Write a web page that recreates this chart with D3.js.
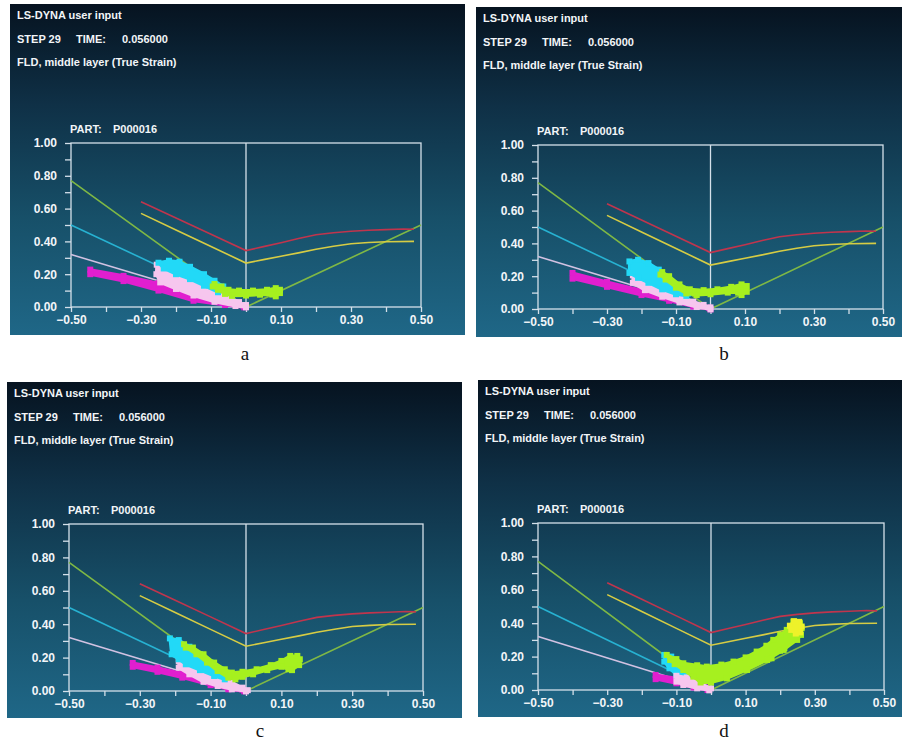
<!DOCTYPE html>
<html>
<head>
<meta charset="utf-8">
<script src="https://cdn.jsdelivr.net/npm/d3@7"></script>
<style>
  body { margin: 0; background: #ffffff; }
  svg text { font-family: "Liberation Sans", Arial, sans-serif; font-weight: bold; }
</style>
</head>
<body>
<div id="chart"></div>
<script>
const width = 902
const height = 742

// ---- data (strain values) ----
const panelNames = ["a", "b", "c", "d"]
const xTickMarks = [-0.5, -0.4, -0.3, -0.2, -0.1, 0, 0.1, 0.2, 0.3, 0.4, 0.5]
const xTickLabels = [-0.5, -0.3, -0.1, 0.1, 0.3, 0.5]
const yTickMarks = [0, 0.1, 0.2, 0.3, 0.4, 0.5, 0.6, 0.7, 0.8, 0.9, 1.0]
const yTickLabels = [0, 0.2, 0.4, 0.6, 0.8, 1.0]

const headerLines = ["LS-DYNA user input", "FLD, middle layer (True Strain)"]
const stepText = ["STEP 29", "TIME:", "0.056000"]
const partText = ["PART:", "P000016"]

// reference lines of the FLD
const greenLine = [[-0.5, 0.77], [0, 0], [0.5, 0.5]]
const cyanLine = [[-0.5, 0.5], [0, 0]]
const lilacLine = [[-0.5, 0.32], [0, 0]]
const redCurve = [[-0.30, 0.642], [-0.2, 0.543], [-0.1, 0.444], [0, 0.344], [0.05, 0.368], [0.1, 0.392],
  [0.15, 0.418], [0.2, 0.441], [0.25, 0.453], [0.3, 0.462], [0.35, 0.468], [0.4, 0.472], [0.45, 0.476], [0.48, 0.474]]
const yellowCurve = [[-0.30, 0.571], [-0.2, 0.470], [-0.1, 0.369], [0, 0.268], [0.05, 0.289], [0.1, 0.310],
  [0.15, 0.330], [0.2, 0.352], [0.25, 0.370], [0.3, 0.386], [0.35, 0.393], [0.4, 0.398], [0.48, 0.400]]

// element point clouds, outlined (major strain vs minor strain)
const magentaA = [[-0.445, 0.228], [-0.35, 0.19], [-0.25, 0.145], [-0.15, 0.078], [-0.06, 0.035], [-0.01, 0.01],
  [-0.005, -0.002], [-0.06, 0.012], [-0.15, 0.038], [-0.25, 0.1], [-0.35, 0.158], [-0.445, 0.2]]
const pinkA = [[-0.255, 0.258], [-0.23, 0.24], [-0.19, 0.2], [-0.14, 0.155], [-0.09, 0.1], [-0.05, 0.06], [-0.02, 0.03],
  [0.0, 0.012], [0.0, -0.002], [-0.03, 0.006], [-0.09, 0.032], [-0.15, 0.07], [-0.2, 0.11], [-0.245, 0.15], [-0.256, 0.2]]
const cyanA = [[-0.25, 0.27], [-0.22, 0.282], [-0.19, 0.276], [-0.16, 0.245], [-0.12, 0.2], [-0.09, 0.16], [-0.065, 0.125],
  [-0.06, 0.1], [-0.08, 0.09], [-0.12, 0.13], [-0.16, 0.17], [-0.2, 0.2], [-0.235, 0.235]]
const limeA = [[-0.09, 0.14], [-0.07, 0.125], [-0.05, 0.105], [-0.02, 0.1], [0.02, 0.1], [0.06, 0.105], [0.085, 0.115],
  [0.097, 0.105], [0.097, 0.085], [0.085, 0.065], [0.075, 0.076], [0.04, 0.075], [0.0, 0.07], [-0.04, 0.068],
  [-0.06, 0.08], [-0.08, 0.105], [-0.095, 0.125]]

const magentaB = [[-0.40, 0.22], [-0.3, 0.165], [-0.2, 0.115], [-0.12, 0.075], [-0.05, 0.035], [-0.005, 0.008],
  [0, -0.002], [-0.05, 0.015], [-0.12, 0.05], [-0.2, 0.085], [-0.3, 0.135], [-0.40, 0.185]]
const pinkB = [[-0.225, 0.205], [-0.2, 0.2], [-0.17, 0.17], [-0.13, 0.12], [-0.09, 0.08], [-0.05, 0.045], [-0.02, 0.025],
  [0, 0.01], [0, -0.002], [-0.04, 0.012], [-0.09, 0.04], [-0.14, 0.075], [-0.19, 0.115], [-0.225, 0.16]]
const cyanB = [[-0.235, 0.29], [-0.21, 0.3], [-0.18, 0.28], [-0.15, 0.24], [-0.12, 0.185], [-0.09, 0.13], [-0.065, 0.095],
  [-0.07, 0.08], [-0.1, 0.09], [-0.14, 0.12], [-0.18, 0.16], [-0.21, 0.19], [-0.235, 0.22]]
const limeB = [[-0.14, 0.225], [-0.12, 0.2], [-0.09, 0.15], [-0.06, 0.12], [-0.02, 0.115], [0.02, 0.12], [0.06, 0.135],
  [0.09, 0.15], [0.105, 0.14], [0.105, 0.105], [0.09, 0.085], [0.08, 0.1], [0.05, 0.1], [0.0, 0.09], [-0.04, 0.085],
  [-0.07, 0.095], [-0.1, 0.13], [-0.13, 0.18], [-0.145, 0.21]]

const magentaC = [[-0.32, 0.168], [-0.25, 0.14], [-0.18, 0.105], [-0.1, 0.06], [-0.04, 0.025], [-0.01, 0.008],
  [-0.005, -0.002], [-0.05, 0.01], [-0.1, 0.035], [-0.18, 0.08], [-0.25, 0.115], [-0.32, 0.145]]
const pinkC = [[-0.19, 0.18], [-0.16, 0.17], [-0.12, 0.13], [-0.08, 0.09], [-0.04, 0.05], [-0.01, 0.02], [0.005, 0.005],
  [0, -0.002], [-0.04, 0.01], [-0.08, 0.03], [-0.12, 0.055], [-0.16, 0.1], [-0.19, 0.14]]
const cyanC = [[-0.215, 0.315], [-0.19, 0.305], [-0.16, 0.265], [-0.13, 0.22], [-0.1, 0.17], [-0.07, 0.12], [-0.05, 0.085],
  [-0.06, 0.07], [-0.09, 0.09], [-0.13, 0.125], [-0.17, 0.16], [-0.19, 0.19], [-0.21, 0.22]]
const limeC = [[-0.175, 0.28], [-0.15, 0.26], [-0.12, 0.22], [-0.09, 0.17], [-0.06, 0.13], [-0.04, 0.11], [-0.01, 0.115],
  [0.03, 0.13], [0.07, 0.155], [0.1, 0.18], [0.125, 0.21], [0.145, 0.21], [0.152, 0.19], [0.15, 0.155], [0.13, 0.125],
  [0.12, 0.13], [0.1, 0.145], [0.06, 0.125], [0.02, 0.1], [-0.01, 0.085], [-0.03, 0.07], [-0.05, 0.08], [-0.08, 0.12],
  [-0.11, 0.17], [-0.14, 0.22], [-0.17, 0.26]]

const magentaD = [[-0.16, 0.09], [-0.1, 0.07], [-0.05, 0.04], [-0.015, 0.015], [-0.01, 0.0], [-0.05, 0.015],
  [-0.1, 0.04], [-0.16, 0.065]]
const pinkD = [[-0.1, 0.085], [-0.07, 0.075], [-0.03, 0.04], [0.0, 0.01], [-0.005, -0.002], [-0.04, 0.01],
  [-0.08, 0.03], [-0.1, 0.05]]
const cyanD = [[-0.135, 0.21], [-0.115, 0.2], [-0.09, 0.15], [-0.07, 0.1], [-0.08, 0.075], [-0.1, 0.09],
  [-0.12, 0.13], [-0.135, 0.17]]
const limeD = [[-0.128, 0.21], [-0.1, 0.185], [-0.08, 0.16], [-0.04, 0.148], [-0.012, 0.14], [0.03, 0.152], [0.065, 0.17],
  [0.1, 0.195], [0.132, 0.23], [0.16, 0.265], [0.18, 0.30], [0.2, 0.33], [0.219, 0.36], [0.238, 0.41], [0.257, 0.40],
  [0.262, 0.37], [0.26, 0.33], [0.249, 0.30], [0.21, 0.24], [0.162, 0.18], [0.104, 0.12], [0.046, 0.07], [0.0, 0.045],
  [-0.03, 0.045], [-0.051, 0.08], [-0.08, 0.12], [-0.105, 0.155], [-0.118, 0.18]]
const yellowD = [[0.228, 0.385], [0.24, 0.412], [0.255, 0.408], [0.262, 0.38], [0.258, 0.345], [0.245, 0.338], [0.232, 0.36]]
const strayD = [[0.175, 0.19], [0.2, 0.235], [0.212, 0.25]]

const clouds = {
  a: [magentaA, pinkA, cyanA, limeA],
  b: [magentaB, pinkB, cyanB, limeB],
  c: [magentaC, pinkC, cyanC, limeC],
  d: [magentaD, cyanD, pinkD, limeD]
}
const cloudColors = {
  a: ["#e11fcf", "#f6c6ee", "#22d9f7", "#a6f01f"],
  b: ["#e11fcf", "#f6c6ee", "#22d9f7", "#a6f01f"],
  c: ["#e11fcf", "#f6c6ee", "#22d9f7", "#a6f01f"],
  d: ["#e11fcf", "#22d9f7", "#f6c6ee", "#a6f01f"]
}

// ---- layout (pixels) ----
const panels = {
  a: { box: [10, 4, 455, 331], plot: [71, 143, 421, 307], caption: [245, 360] },
  b: { box: [476, 7, 426, 330], plot: [538, 145, 883, 309], caption: [724, 360] },
  c: { box: [7, 382, 455, 336], plot: [69, 524, 423, 691], caption: [260, 737] },
  d: { box: [478, 380, 424, 337], plot: [538, 523, 884, 690], caption: [724, 737] }
}

const svg = d3.select("#chart").append("svg").attr("width", width).attr("height", height)

const defs = svg.append("defs")
const grad = defs.append("linearGradient").attr("id", "bg").attr("x1", 0).attr("y1", 0).attr("x2", 0).attr("y2", 1)
grad.append("stop").attr("offset", "0%").attr("stop-color", "#061320")
grad.append("stop").attr("offset", "30%").attr("stop-color", "#0f3046")
grad.append("stop").attr("offset", "65%").attr("stop-color", "#175069")
grad.append("stop").attr("offset", "100%").attr("stop-color", "#1f6787")

const frameColor = "#d4e0ea"
const textColor = "#f2f5f8"

panelNames.forEach(name => {
  const p = panels[name]
  const [bx, by, bw, bh] = p.box
  const [pl, pt, pr, pb] = p.plot
  const g = svg.append("g").attr("id", "panel-" + name)

  g.append("rect").attr("x", bx).attr("y", by).attr("width", bw).attr("height", bh).attr("fill", "url(#bg)")

  // header texts
  g.append("text").text(headerLines[0]).attr("x", bx + 7).attr("y", by + 15)
    .attr("font-size", 11).attr("fill", textColor)
  g.selectAll(".step").data(stepText).join("text").attr("class", "step")
    .text(d => d)
    .attr("x", (d, i) => bx + 7 + [0, 59, 105][i]).attr("y", by + 39)
    .attr("font-size", 11).attr("fill", textColor)
  g.append("text").text(headerLines[1]).attr("x", bx + 7).attr("y", by + 62)
    .attr("font-size", 11).attr("fill", textColor)
  g.selectAll(".part").data(partText).join("text").attr("class", "part")
    .text(d => d)
    .attr("x", (d, i) => pl - 1 + [0, 43][i]).attr("y", pt - 10)
    .attr("font-size", 11).attr("fill", textColor)

  const x = d3.scaleLinear().domain([-0.5, 0.5]).range([pl, pr])
  const y = d3.scaleLinear().domain([0, 1]).range([pb, pt])

  // tick marks
  const xMarks = g.append("g").attr("transform", `translate(0,${pb})`)
    .call(d3.axisBottom(x).tickValues(xTickMarks).tickSize(5).tickFormat(""))
  const yMarks = g.append("g").attr("transform", `translate(${pl},0)`)
    .call(d3.axisLeft(y).tickValues(yTickMarks).tickSize(6).tickFormat(""))
  ;[xMarks, yMarks].forEach(a => {
    a.select(".domain").remove()
    a.selectAll("line").attr("stroke", frameColor).attr("stroke-width", 1.3)
  })

  // tick labels
  const xLab = g.append("g").attr("transform", `translate(0,${pb})`)
    .call(d3.axisBottom(x).tickValues(xTickLabels).tickSize(0).tickPadding(8).tickFormat(d3.format(".2f")))
  const yLab = g.append("g").attr("transform", `translate(${pl},0)`)
    .call(d3.axisLeft(y).tickValues(yTickLabels).tickSize(0).tickPadding(14).tickFormat(d3.format(".2f")))
  ;[xLab, yLab].forEach(a => {
    a.select(".domain").remove()
    a.selectAll("text").attr("fill", textColor).attr("font-size", 12)
      .attr("font-family", "'Liberation Sans', Arial, sans-serif").attr("font-weight", "bold")
  })

  // frame and zero line
  g.append("rect").attr("x", x(-0.5)).attr("y", y(1)).attr("width", x(0.5) - x(-0.5)).attr("height", y(0) - y(1))
    .attr("fill", "none").attr("stroke", frameColor).attr("stroke-width", 1.3)
  g.append("line").attr("x1", x(0)).attr("x2", x(0)).attr("y1", y(0)).attr("y2", y(1))
    .attr("stroke", frameColor).attr("stroke-width", 1.3)

  const line = d3.line().x(d => x(d[0])).y(d => y(d[1]))
  const refLines = [[greenLine, "#7fb845"], [cyanLine, "#27b2d2"], [lilacLine, "#d2c2e2"],
    [redCurve, "#c0354d"], [yellowCurve, "#d6cc44"]]
  refLines.forEach(([pts, col]) => {
    g.append("path").datum(pts).attr("d", line)
      .attr("fill", "none").attr("stroke", col).attr("stroke-width", 1.6)
  })

  // point clouds
  const closed = d3.line().x(d => x(d[0])).y(d => y(d[1])).curve(d3.curveLinearClosed)
  const drawCloud = (pts, col) => {
    g.append("path").datum(pts).attr("d", closed)
      .attr("fill", col).attr("stroke", col).attr("stroke-width", 3).attr("stroke-linejoin", "round")
    g.append("g").selectAll("rect").data(pts).join("rect")
      .attr("x", d => x(d[0]) - 3).attr("y", d => y(d[1]) - 3)
      .attr("width", 6).attr("height", 6).attr("fill", col)
  }
  clouds[name].forEach((pts, i) => drawCloud(pts, cloudColors[name][i]))
  if (name === "d") {
    drawCloud(yellowD, "#eef22a")
    g.append("g").selectAll("rect").data(strayD).join("rect")
      .attr("x", d => x(d[0]) - 3).attr("y", d => y(d[1]) - 3)
      .attr("width", 6).attr("height", 6).attr("fill", "#a6f01f")
  }

  // caption
  g.append("text").text(name).attr("x", p.caption[0]).attr("y", p.caption[1])
    .attr("text-anchor", "middle").attr("font-size", 19).attr("fill", "#111")
    .style("font-family", "'Liberation Serif', 'Times New Roman', serif").style("font-weight", "normal")
})
</script>
</body>
</html>
